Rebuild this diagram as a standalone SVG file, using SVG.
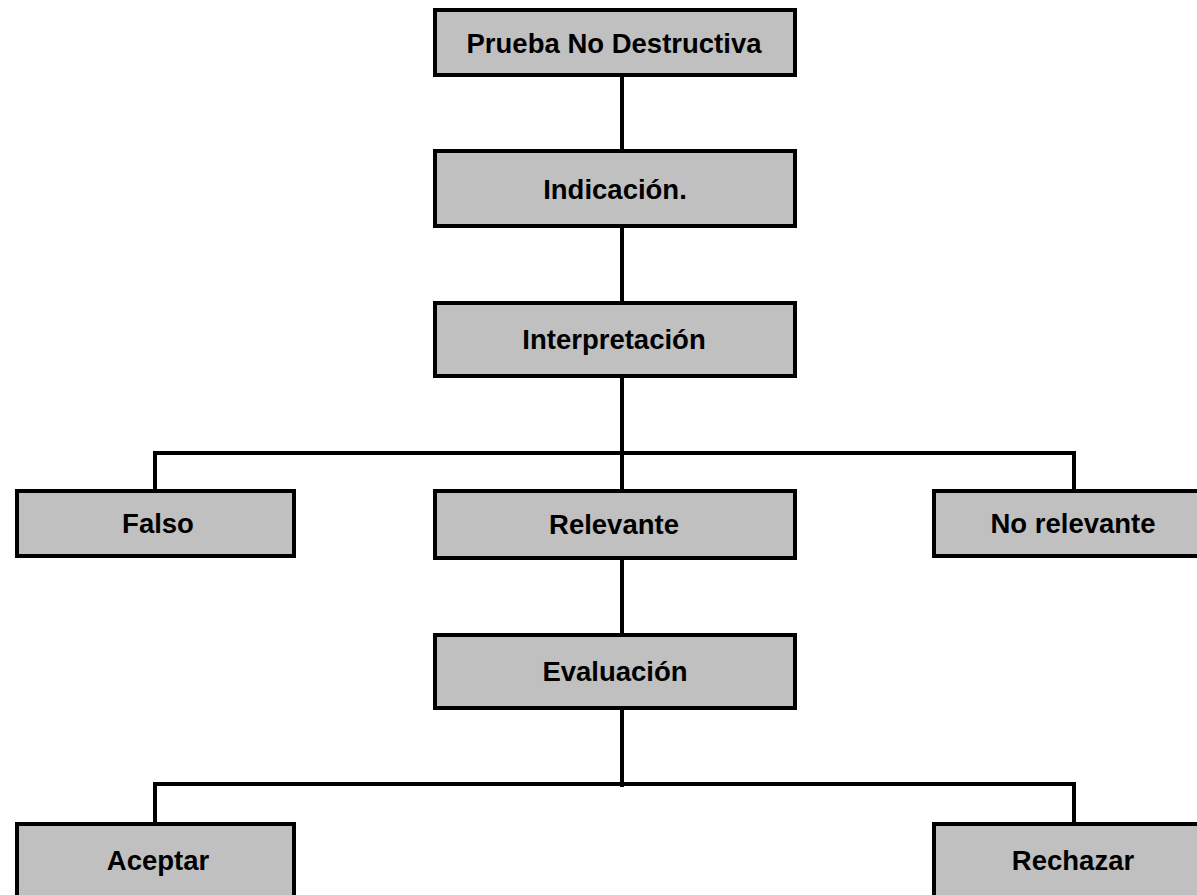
<svg xmlns="http://www.w3.org/2000/svg" width="1197" height="895" viewBox="0 0 1197 895">
<style>
.box{fill:#c0c0c0;stroke:#000;stroke-width:4}
.lbl{font-family:"Liberation Sans",Arial,sans-serif;font-weight:bold;font-size:27.5px;fill:#000;text-anchor:middle}
.con{fill:none;stroke:#000;stroke-width:4}
</style>
<rect width="1197" height="895" fill="#fff"/>
<g id="connectors">
<line class="con" x1="622" y1="75" x2="622" y2="151"/>
<line class="con" x1="622" y1="226" x2="622" y2="303"/>
<line class="con" x1="622" y1="376" x2="622" y2="491"/>
<polyline class="con" points="155,491 155,453 1074,453 1074,491"/>
<line class="con" x1="622" y1="558" x2="622" y2="635"/>
<line class="con" x1="622" y1="708" x2="622" y2="787"/>
<polyline class="con" points="155,824 155,784 1074,784 1074,824"/>
</g>
<g id="prueba"><rect class="box" x="435" y="10" width="360" height="65"/><text class="lbl" x="614" y="52.5">Prueba No Destructiva</text></g>
<g id="indicacion"><rect class="box" x="435" y="151" width="360" height="75"/><text class="lbl" x="615" y="198.5">Indicación.</text></g>
<g id="interpretacion"><rect class="box" x="435" y="303" width="360" height="73"/><text class="lbl" x="614" y="349">Interpretación</text></g>
<g id="falso"><rect class="box" x="17" y="491" width="277" height="65"/><text class="lbl" x="158" y="533">Falso</text></g>
<g id="relevante"><rect class="box" x="435" y="491" width="360" height="67"/><text class="lbl" x="614" y="534">Relevante</text></g>
<g id="norelevante"><rect class="box" x="934" y="491" width="280" height="65"/><text class="lbl" x="1073" y="533">No relevante</text></g>
<g id="evaluacion"><rect class="box" x="435" y="635" width="360" height="73"/><text class="lbl" x="615" y="681">Evaluación</text></g>
<g id="aceptar"><rect class="box" x="17" y="824" width="277" height="80"/><text class="lbl" x="158" y="870">Aceptar</text></g>
<g id="rechazar"><rect class="box" x="934" y="824" width="280" height="80"/><text class="lbl" x="1073" y="870">Rechazar</text></g>
</svg>
